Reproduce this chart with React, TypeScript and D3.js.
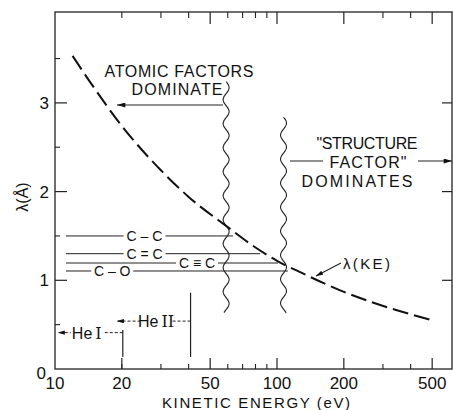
import React from "react";
import * as d3 from "d3";

// ---- data ----
const curveE = [12, 15, 20, 30, 40, 60, 80, 100, 130, 200, 285, 500];
const curveL = [3.53, 3.17, 2.74, 2.24, 1.94, 1.6, 1.37, 1.22, 1.08, 0.87, 0.73, 0.55];

const bondNames = ["C – C", "C = C", "C ≡ C", "C – O"];
const bondL = [1.5, 1.3, 1.195, 1.105];
const bondStartE = [11.2, 11.2, 11.2, 11.2];
const bondEndE = [63.4, 84, 101, 112];
const bondLabelE = [25.3, 25.3, 43.6, 18.1];

const waveE = [59, 107];
const waveTopL = [3.24, 2.84];
const waveBottomL = [0.63, 0.63];

const heNames = ["I", "II"];
const heE = [20.2, 40.8];
const heArrowL = [0.41, 0.54];
const heArrowTipE = [10.3, 19];
const heVertTopL = [0.44, 0.86];
const heVertBottomL = [0.135, 0.135];
const heTextE = [13.9, 28.5];

const xMajor = [10, 20, 50, 100, 200, 500];
const xMinor = [30, 40, 60, 70, 80, 90, 300, 400];
const xTopMinor = [20, 30, 40, 60, 70, 80, 90, 300, 400];
const xTopMajor = [50, 100, 200, 500];
const yMajor = [0, 1, 2, 3];
const yMinor = [0.5, 1.5, 2.5, 3.5];

const W = 453;
const H = 410;
const L = 55, R = 452, T = 12, B = 369;

const x = d3.scaleLog().domain([10, 10 * Math.pow(10, (R - L) / 222)]).range([L, R]);
const y = d3.scaleLinear().domain([0, (B - T) / 88.7]).range([B, T]);

const FONT = "'Liberation Sans', 'DejaVu Sans', sans-serif";

function wavePath(cx: number, y0: number, y1: number) {
  const pts: [number, number][] = [];
  const P = 24, A = 3;
  for (let yy = y0; yy <= y1; yy += 1) {
    pts.push([cx + A * Math.sin((2 * Math.PI * (yy - y0)) / P), yy]);
  }
  return d3.line().curve(d3.curveBasis)(pts) || "";
}

export default function App() {
  const curve = d3
    .line<number>()
    .x((_, i) => x(curveE[i]))
    .y((d) => y(d))
    .curve(d3.curveMonotoneX)(curveL) || "";

  return (
    <svg width={W} height={H} style={{ position: "absolute", left: 0, top: 0, background: "#fff" }} fontFamily={FONT}>
      <defs>
        <marker id="ah" viewBox="0 0 10 6" refX="10" refY="3" markerWidth="11" markerHeight="5" markerUnits="userSpaceOnUse" orient="auto">
          <path d="M0,0 L10,3 L0,6 Z" fill="#111" />
        </marker>
        <marker id="ahs" viewBox="0 0 8 5" refX="8" refY="2.5" markerWidth="7" markerHeight="4.5" markerUnits="userSpaceOnUse" orient="auto">
          <path d="M0,0 L8,2.5 L0,5 Z" fill="#111" />
        </marker>
      </defs>
      {/* frame */}
      <rect x={L} y={T} width={R - L} height={B - T} fill="none" stroke="#222" strokeWidth={1.3} />
      {/* bottom ticks */}
      {xMajor.slice(1).map((v) => (
        <line key={"bm" + v} x1={x(v)} x2={x(v)} y1={B} y2={B - 11} stroke="#222" strokeWidth={1.2} />
      ))}
      {[20, ...xMinor].map((v) => (
        <line key={"bn" + v} x1={x(v)} x2={x(v)} y1={B} y2={B - 5} stroke="#222" strokeWidth={1.1} />
      ))}
      {/* top ticks */}
      {xTopMajor.map((v) => (
        <line key={"tm" + v} x1={x(v)} x2={x(v)} y1={T} y2={T + 12} stroke="#222" strokeWidth={1.2} />
      ))}
      {xTopMinor.map((v) => (
        <line key={"tn" + v} x1={x(v)} x2={x(v)} y1={T} y2={T + 6} stroke="#222" strokeWidth={1.1} />
      ))}
      {/* left/right ticks */}
      {yMajor.slice(1).map((v) => (
        <g key={"ym" + v}>
          <line x1={L} x2={L + 12} y1={y(v)} y2={y(v)} stroke="#222" strokeWidth={1.2} />
          <line x1={R} x2={R - 10} y1={y(v)} y2={y(v)} stroke="#222" strokeWidth={1.2} />
        </g>
      ))}
      {yMinor.map((v) => (
        <line key={"yn" + v} x1={L} x2={L + 5} y1={y(v)} y2={y(v)} stroke="#222" strokeWidth={1.1} />
      ))}
      {/* x tick labels */}
      {xMajor.map((v) => (
        <text key={"xl" + v} x={x(v)} y={389} textAnchor="middle" fontSize={17} fill="#111">
          {v}
        </text>
      ))}
      {/* y tick labels */}
      {yMajor.map((v) => (
        <text key={"yl" + v} x={v === 0 ? 46 : 49} y={v === 0 ? y(v) + 10 : y(v) + 6} textAnchor="end" fontSize={17} fill="#111">
          {v}
        </text>
      ))}
      {/* axis titles */}
      <text x={162} y={408} fontSize={15} fill="#111" textLength={188}>
        KINETIC ENERGY (eV)
      </text>
      <text transform="translate(28,197) rotate(-90)" textAnchor="middle" fontSize={16} fill="#111">
        λ(Å)
      </text>

      {/* bond lines */}
      {bondNames.map((n, i) => (
        <g key={n}>
          <line x1={x(bondStartE[i])} x2={x(bondEndE[i])} y1={y(bondL[i])} y2={y(bondL[i])} stroke="#222" strokeWidth={1} />
          <rect x={x(bondLabelE[i]) - 21} y={y(bondL[i]) - 6} width={42} height={12} fill="#fff" />
          <text x={x(bondLabelE[i])} y={y(bondL[i]) + 5} textAnchor="middle" fontSize={14} fill="#111">
            {n}
          </text>
        </g>
      ))}

      {/* wavy boundaries */}
      {waveE.map((e, i) => (
        <path key={"w" + i} d={wavePath(x(e), y(waveTopL[i]), y(waveBottomL[i]))} fill="none" stroke="#222" strokeWidth={1.1} />
      ))}

      {/* curve */}
      <path d={curve} fill="none" stroke="#111" strokeWidth={2} strokeDasharray="16,6" />

      {/* He lines */}
      {heNames.map((n, i) => (
        <g key={"he" + i}>
          <line x1={x(heE[i])} x2={x(heE[i])} y1={y(heVertTopL[i])} y2={y(heVertBottomL[i])} stroke="#222" strokeWidth={1.2} />
          <line x1={x(heE[i])} x2={x(heArrowTipE[i])} y1={y(heArrowL[i])} y2={y(heArrowL[i])} stroke="#222" strokeWidth={1} strokeDasharray="3,2" markerEnd="url(#ahs)" />
          <rect x={x(heTextE[i]) - 16} y={y(heArrowL[i]) - 8} width={32} height={16} fill="#fff" />
          <text x={x(heTextE[i])} y={y(heArrowL[i]) + 6} textAnchor="middle" fontSize={16} fill="#111">
            He<tspan fontFamily="'DejaVu Serif', 'Liberation Serif', serif" dx={3}>{n}</tspan>
          </text>
        </g>
      ))}

      {/* annotations */}
      <text x={179} y={77} textAnchor="middle" fontSize={16} fill="#111" textLength={149}>
        ATOMIC FACTORS
      </text>
      <text x={177} y={95} textAnchor="middle" fontSize={16} fill="#111" textLength={91}>
        DOMINATE
      </text>
      <line x1={223} x2={117} y1={105} y2={105} stroke="#222" strokeWidth={1.1} markerEnd="url(#ah)" />

      <text x={367} y={149} textAnchor="middle" fontSize={16} fill="#111" textLength={101}>
        "STRUCTURE
      </text>
      <text x={368} y={168} textAnchor="middle" fontSize={16} fill="#111" textLength={77}>
        FACTOR"
      </text>
      <text x={357} y={187} textAnchor="middle" fontSize={16} fill="#111" textLength={111}>
        DOMINATES
      </text>
      <line x1={290} x2={323} y1={161} y2={161} stroke="#222" strokeWidth={1.1} />
      <line x1={418} x2={452} y1={161} y2={161} stroke="#222" strokeWidth={1.1} markerEnd="url(#ah)" />

      <text x={343} y={269} fontSize={15} fill="#111" textLength={47}>
        λ(KE)
      </text>
      <line x1={341} x2={316} y1={263} y2={276} stroke="#222" strokeWidth={1.1} markerEnd="url(#ahs)" />
    </svg>
  );
}
